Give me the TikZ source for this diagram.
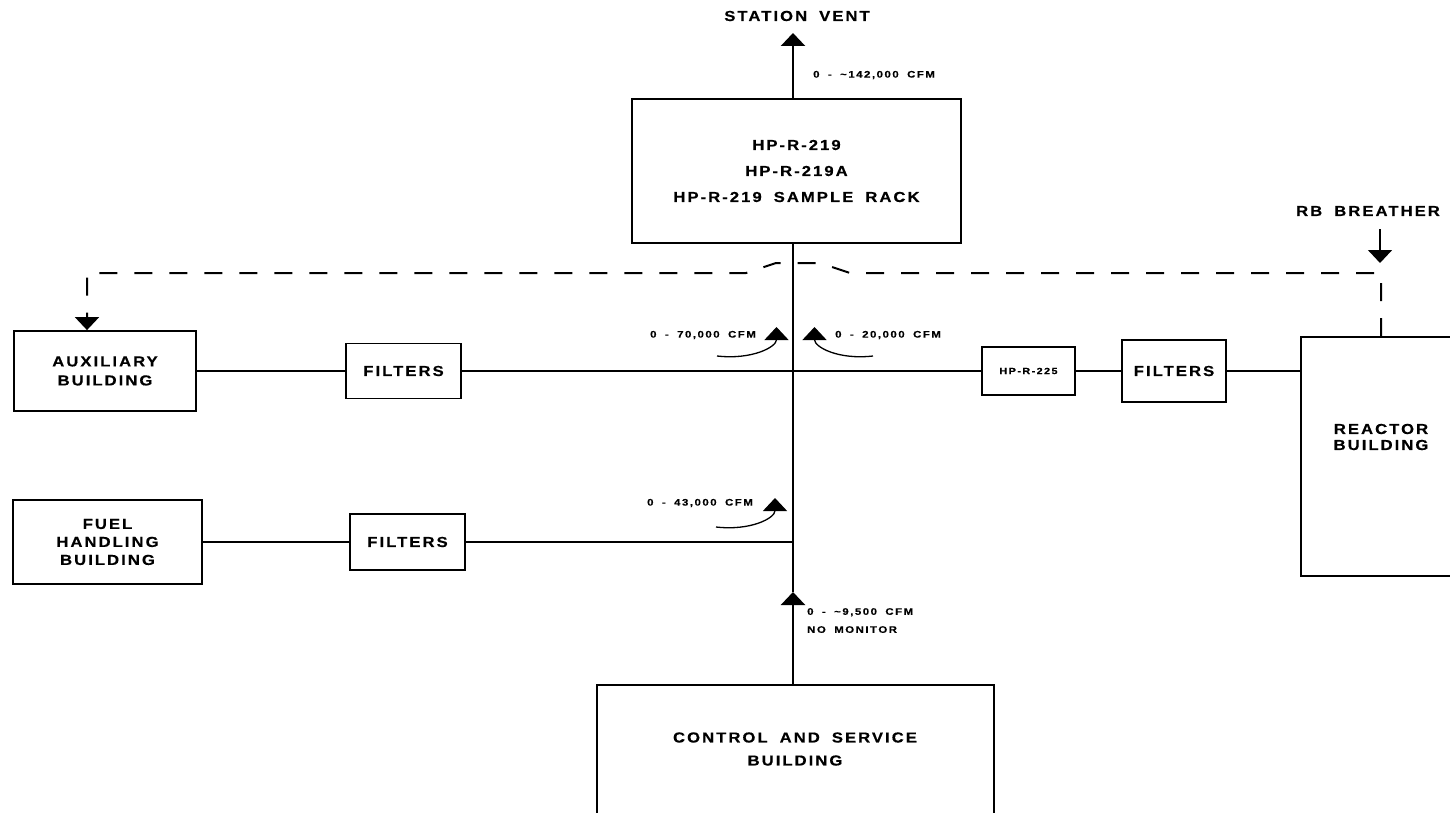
\documentclass[tikz,border=0pt]{standalone}
\usepackage{fontspec}
\setmainfont{Liberation Sans}
\newfontfamily\blockfont[FakeStretch=1.15, LetterSpace=14, WordSpace=1.8, FakeBold=0.4]{Liberation Sans Bold}
\newfontfamily\flowfont[FakeStretch=1.2, LetterSpace=16, WordSpace=1.8, FakeBold=0.3]{Liberation Sans Bold}
\usetikzlibrary{arrows.meta}

\begin{document}
\begin{tikzpicture}[x=1pt, y=-1pt, line join=miter,
 box/.style={draw, line width=1.8pt, inner sep=0pt, align=center,
   font=\blockfont\fontsize{14.5}{19}\selectfont},
 big text/.style={inner sep=0pt, align=center,
   font=\blockfont\fontsize{14.5}{19}\selectfont},
 small text/.style={inner sep=0pt, align=left,
   font=\flowfont\fontsize{9.5}{18}\selectfont},
 duct/.style={line width=1.8pt},
 main duct/.style={line width=2.4pt},
 flow tip/.style={-{Triangle[width=24pt,length=13pt]}},
 bleed/.style={line width=2pt, dash pattern=on 18pt off 17pt},
 swirl/.style={line width=1.3pt}]

  \fill[white] (0,0) rectangle (1450,813);
  \useasboundingbox (0,0) rectangle (1450,813);

  % monitors and buildings
  \node[big text] (vent) at (797,16) {STATION VENT};
  \node[box, minimum width=329pt, minimum height=144pt,
    font=\blockfont\fontsize{14.5}{26}\selectfont] (mon) at (796.5,171)
    {HP-R-219\\HP-R-219A\\HP-R-219 SAMPLE RACK};
  \node[box, minimum width=182pt, minimum height=80pt] (aux) at (105,371) {AUXILIARY\\BUILDING};
  \node[box, minimum width=115pt, minimum height=55pt] (filta) at (403.5,371) {FILTERS};
  \node[box, minimum width=189pt, minimum height=84pt,
    font=\blockfont\fontsize{14.5}{18}\selectfont] (fuel) at (107.5,542)
    {FUEL\\HANDLING\\BUILDING};
  \node[box, minimum width=115pt, minimum height=56pt] (filtf) at (407.5,542) {FILTERS};
  \node[box, minimum width=93pt, minimum height=48pt,
    font=\flowfont\fontsize{9}{10}\selectfont] (hp225) at (1028.5,371) {HP-R-225};
  \node[box, minimum width=104pt, minimum height=62pt] (filtr) at (1174,371) {FILTERS};
  \node[box, minimum width=159pt, minimum height=239pt] (rb) at (1380.5,456.5) {};
  \node[big text, font=\blockfont\fontsize{14.5}{16}\selectfont] (rbname) at (1381,437)
    {REACTOR\\BUILDING};
  \node[big text] (breather) at (1368,211) {RB BREATHER};
  \node[box, minimum width=397pt, minimum height=160pt] (ctl) at (795.5,765) {};
  \node[big text, font=\blockfont\fontsize{14.5}{23}\selectfont] (ctlname) at (795,749)
    {CONTROL AND SERVICE\\BUILDING};

  \coordinate (junc) at (793,371);
  \coordinate (vtip) at (793,33);
  \coordinate (a95) at (793,592);
  \coordinate (dl) at (87,273);
  \coordinate (dr) at (1381,273);
  \coordinate (hopl) at (746,273);
  \coordinate (hopr) at (850,273);
  \coordinate (btop) at (1380,229);
  \coordinate (btip) at (1380,263);

  % main stack
  \draw[main duct, flow tip] (mon.north -| vtip) -- (vtip);
  \draw[main duct, flow tip] (ctl.north -| junc) -- (a95);
  \draw[main duct] (a95) -- (mon.south -| junc);

  % branch ducts
  \foreach \s/\t in {aux/filta, filta/hp225, hp225/filtr, fuel/filtf} {
   \draw[duct] (\s) -- (\t);}
  \draw[duct] (filtr.east) -- (filtr.east -| rb.west);
  \draw[duct] (filtf) -- (filtf -| junc);

  % breather
  \draw[duct, flow tip] (btop) -- (btip);
  \draw[bleed, flow tip] (rb.north -| dr) -- (dr) -- (hopr) -- ++(-30,-10) -- ++(-44,0)
    -- (hopl) -- (dl) -- (aux.north -| dl);

  % flow arrows
  \coordinate (t70) at (717,356); \coordinate (h70) at (776.5,327);
  \coordinate (t20) at (873,356); \coordinate (h20) at (814.5,327);
  \coordinate (t43) at (716,527); \coordinate (h43) at (775,498);
  \draw[swirl, flow tip] (t70) .. controls +(35,4) and +(0,20) .. (h70);
  \draw[swirl, flow tip] (t20) .. controls +(-35,4) and +(0,20) .. (h20);
  \draw[swirl, flow tip] (t43) .. controls +(35,4) and +(0,20) .. (h43);

  \node[small text, anchor=east] (l70) at (756,335) {0 - 70,000 CFM};
  \node[small text, anchor=west] (l20) at (835,335) {0 - 20,000 CFM};
  \node[small text, anchor=east] (l43) at (753,503) {0 - 43,000 CFM};
  \node[small text, anchor=west] (l142) at (813,75) {0 - \textasciitilde142,000 CFM};
  \node[small text, anchor=north west] (l95) at (807,608)
    {0 - \textasciitilde9,500 CFM\\NO MONITOR};
\end{tikzpicture}
\end{document}
